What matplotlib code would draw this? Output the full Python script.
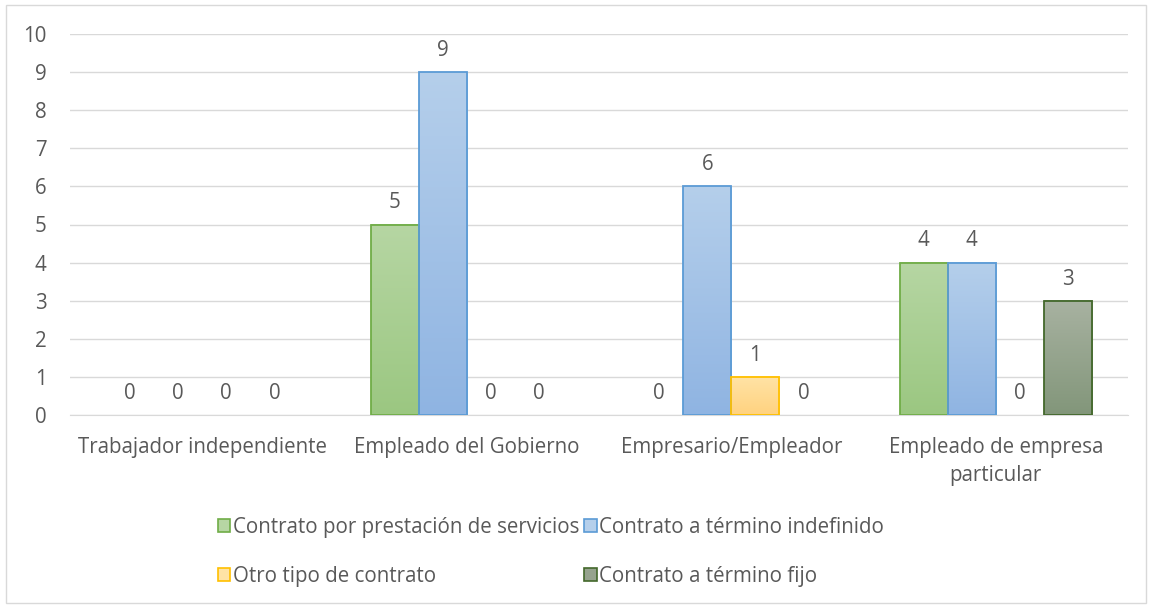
import matplotlib
matplotlib.use("Agg")
import matplotlib.pyplot as plt
import numpy as np
from matplotlib.colors import LinearSegmentedColormap
from matplotlib.patches import Rectangle

categories = ["Trabajador independiente", "Empleado del Gobierno",
              "Empresario/Empleador", "Empleado de empresa\nparticular"]
series_names = ["Contrato por prestación de servicios", "Contrato a término indefinido",
                "Otro tipo de contrato", "Contrato a término fijo"]
prestacion = [0, 5, 0, 4]
indefinido = [0, 9, 6, 4]
otro = [0, 0, 1, 0]
fijo = [0, 0, 0, 3]
yticks = list(range(0, 11))

series_values = [prestacion, indefinido, otro, fijo]
tops = ["#b6d6a3", "#b5cfeb", "#ffe3a6", "#a8b2a1"]
bottoms = ["#9bc781", "#8fb4e2", "#ffd27f", "#82967a"]
edges = ["#70ad47", "#5b9bd5", "#ffc000", "#43682b"]

plt.rcParams['font.family'] = ['Open Sans', 'DejaVu Sans']
txt = "#595959"
fs = 14.8

fig = plt.figure(figsize=(11.5, 6.05), dpi=100)
ax = fig.add_axes([70/1150, 1-415/605, (1128-70)/1150, (415-34)/605])

n = len(series_values)
bw = 1/(n+1.5)
x = np.arange(len(categories))
grad = np.linspace(0, 1, 256).reshape(-1, 1)
for i, vals in enumerate(series_values):
    off = (i - (n-1)/2) * bw
    cmap = LinearSegmentedColormap.from_list(f"g{i}", [bottoms[i], tops[i]])
    for xi, v in zip(x, vals):
        left = xi + off - bw/2
        if v > 0:
            ax.imshow(grad, cmap=cmap, aspect='auto', origin='lower',
                      extent=[left, left+bw, 0, v], zorder=2)
            rect = Rectangle((left, 0), bw, v, facecolor='none',
                             edgecolor=edges[i], linewidth=1.3, zorder=3)
            ax.add_patch(rect)
        ax.annotate(str(v), (xi+off, v), xytext=(0, 8), textcoords='offset points',
                    ha='center', va='bottom', fontsize=fs, color=txt)

ax.set_xlim(-0.5, len(categories)-0.5)
ax.set_ylim(0, 10)
ax.set_yticks(yticks)
ax.set_xticks(x)
ax.set_xticklabels(categories, fontsize=fs, color=txt, linespacing=1.45)
ax.tick_params(axis='y', labelsize=fs, colors=txt, length=0, pad=17)
ax.tick_params(axis='x', length=0, pad=16)
ax.grid(axis='y', color="#d9d9d9", linewidth=1, zorder=0)
ax.set_axisbelow(True)
for s in ['top', 'right', 'left']:
    ax.spines[s].set_visible(False)
ax.spines['bottom'].set_color("#d9d9d9")

handles = []
for i in range(n):
    handles.append(Rectangle((0, 0), 1, 1, facecolor=(tops[i] if i != 3 else "#96a38e"),
                             edgecolor=edges[i], linewidth=1.2))
order = [0, 2, 1, 3]
leg = fig.legend([handles[k] for k in order], [series_names[k] for k in order],
                 ncol=2, loc='center', bbox_to_anchor=(551/1150, 1-552/605),
                 frameon=False, fontsize=fs, labelcolor=txt,
                 handlelength=0.6, handleheight=0.6, handletextpad=0.12,
                 columnspacing=0.25, labelspacing=1.35)

fig.patches.append(Rectangle((6/1150, 2/605), 1140/1150, 598/605, transform=fig.transFigure,
                             facecolor='none', edgecolor="#d9d9d9", linewidth=1))
fig.savefig("out.png", dpi=100)
